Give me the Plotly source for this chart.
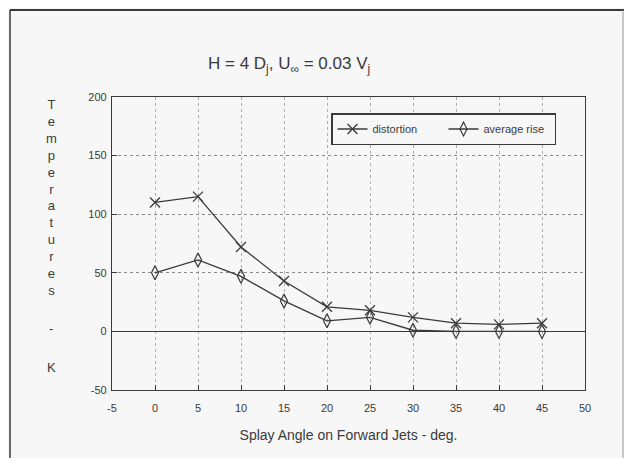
import plotly.graph_objects as go

splay_angle = [0, 5, 10, 15, 20, 25, 30, 35, 40, 45]
distortion = [110, 115, 72, 43, 21, 18, 12, 7, 6, 7]
average_rise = [50, 61, 47, 26, 9, 12, 1, 0, 0, 0]
x_ticks = [-5, 0, 5, 10, 15, 20, 25, 30, 35, 40, 45, 50]
x_tick_labels = ["-5", "0", "5", "10", "15", "20", "25", "30", "35", "40", "45", "50"]
y_ticks = [-50, 0, 50, 100, 150, 200]
y_tick_labels = ["-50", "0", "50", "100", "150", "200"]

INK = "#3a3a3a"
BG = "#f7f7f7"
FONT = "Liberation Sans, Arial, sans-serif"

fig = go.Figure()
fig.add_trace(go.Scatter(
    x=splay_angle, y=distortion, name="distortion", mode="lines+markers",
    line=dict(color=INK, width=1.3),
    marker=dict(symbol="x-thin-open", size=10, line=dict(color=INK, width=1.3)),
))
fig.add_trace(go.Scatter(
    x=splay_angle, y=average_rise, name="average rise", mode="lines+markers",
    line=dict(color=INK, width=1.3),
    marker=dict(symbol="diamond-tall-open", size=10, color=INK, line=dict(color=INK, width=1.2)),
))

# page body margin offset (8px) accounted for; figure sized to avoid page overflow
O = 8
W, H = 632 - 2 * O, 466 - 2 * O
L, R, T, B = 112 - O, 585 - O, 97 - O, 390 - O
pw, ph = R - L, B - T

def px(x):
    return (x - O - L) / pw

def py(y):
    return (B - (y - O)) / ph

fig.update_layout(
    width=W, height=H,
    margin=dict(l=L, r=W - R, t=T, b=H - B, pad=0, autoexpand=False),
    paper_bgcolor=BG, plot_bgcolor=BG,
    font=dict(family=FONT, color=INK, size=11),
    showlegend=True,
    legend=dict(
        orientation="h", x=px(331), y=py(113), xanchor="left", yanchor="top",
        bordercolor=INK, borderwidth=1.5, bgcolor=BG,
        font=dict(size=11, color=INK), entrywidth=66, entrywidthmode="pixels",
        itemwidth=30,
    ),
    xaxis=dict(
        range=[-5, 50], tickvals=x_ticks, ticktext=x_tick_labels,
        ticks="inside", ticklen=5, tickcolor=INK,
        showline=True, linecolor=INK, linewidth=1.3, mirror=True,
        showgrid=True, gridcolor="#b0b0b0", griddash="dot", gridwidth=1,
        zeroline=False, tickfont=dict(size=11, color=INK), ticklabelstandoff=8,
        title=dict(text="Splay Angle on Forward Jets - deg.", font=dict(size=14, color=INK), standoff=16),
    ),
    yaxis=dict(
        range=[-50, 200], tickvals=y_ticks, ticktext=y_tick_labels,
        ticks="inside", ticklen=5, tickcolor=INK,
        showline=True, linecolor=INK, linewidth=1.3, mirror=True,
        showgrid=True, gridcolor="#8a8a8a", griddash="dot", gridwidth=1,
        zeroline=True, zerolinecolor=INK, zerolinewidth=1.3,
        tickfont=dict(size=11, color=INK), ticklabelstandoff=2,
    ),
    shapes=[
        dict(type="line", xref="paper", yref="paper", x0=px(10), x1=px(624), y0=py(10), y1=py(10),
             line=dict(color=INK, width=2)),
        dict(type="line", xref="paper", yref="paper", x0=px(10), x1=px(10), y0=py(10), y1=py(466),
             line=dict(color=INK, width=1.5)),
        dict(type="line", xref="paper", yref="paper", x0=px(623), x1=px(623), y0=py(10), y1=py(466),
             line=dict(color="#9a9a9a", width=1)),
    ],
)

fig.add_annotation(
    text="H = 4 D<sub>j</sub>, U<sub>∞</sub> = 0.03 V<sub>j</sub>",
    xref="paper", yref="paper", x=px(289), y=py(65), xanchor="center", yanchor="middle",
    showarrow=False, font=dict(size=17, color=INK, family=FONT),
)

fig.add_annotation(
    text="<br>".join(list("Temperatures")),
    xref="paper", yref="paper", x=px(51), y=py(95), xanchor="center", yanchor="top",
    showarrow=False, font=dict(size=13, color=INK, family=FONT),
)
fig.add_annotation(
    text="-", xref="paper", yref="paper", x=px(51), y=py(328), xanchor="center", yanchor="middle",
    showarrow=False, font=dict(size=13, color=INK, family=FONT),
)
fig.add_annotation(
    text="K", xref="paper", yref="paper", x=px(51), y=py(367), xanchor="center", yanchor="middle",
    showarrow=False, font=dict(size=13, color=INK, family=FONT),
)

fig.write_html("out.html")
